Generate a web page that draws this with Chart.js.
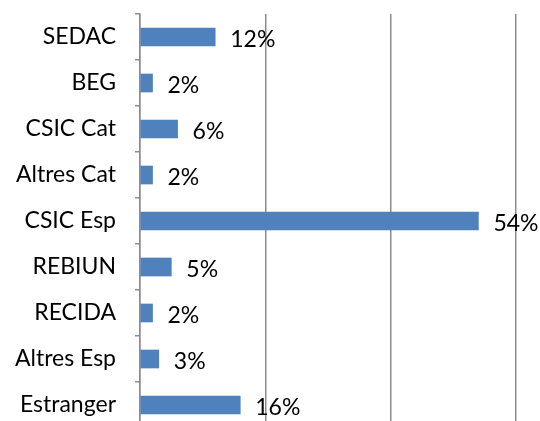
<!DOCTYPE html>
<html>
<head>
<meta charset="utf-8">
<script src="https://cdn.jsdelivr.net/npm/chart.js@4"></script>
<style>
    html, body { margin: 0; padding: 0; background: #fff; overflow: hidden; }
    #wrap { width: 540px; height: 428px; }
</style>
</head>
<body>
<div id="wrap"><canvas id="shareChart" width="540" height="428"></canvas></div>
<script>
const categories = ['SEDAC', 'BEG', 'CSIC Cat', 'Altres Cat', 'CSIC Esp', 'REBIUN', 'RECIDA', 'Altres Esp', 'Estranger'];
const shares = [12, 2, 6, 2, 54, 5, 2, 3, 16];
const axisMax = 60;
const axisStep = 20;

const barColor = '#4f81bd';
const gridColor = '#8c8c8c';
const fontFamily = 'Lato, "Open Sans", sans-serif';

// percentage labels to the right of each bar
const barLabels = {
    id: 'barLabels',
    afterDatasetsDraw(chart) {
        const { ctx } = chart;
        const meta = chart.getDatasetMeta(0);
        ctx.save();
        ctx.font = `23px ${fontFamily}`;
        ctx.fillStyle = '#000';
        ctx.textAlign = 'left';
        ctx.textBaseline = 'middle';
        meta.data.forEach((bar, index) => {
            ctx.fillText(`${shares[index]}%`, bar.x + 15, bar.y + 3);
        });
        ctx.restore();
    }
};

const ctx = document.getElementById('shareChart').getContext('2d');
new Chart(ctx, {
    type: 'bar',
    data: {
        labels: categories,
        datasets: [{
            data: shares,
            backgroundColor: barColor,
            barThickness: 18
        }]
    },
    options: {
        indexAxis: 'y',
        responsive: false,
        animation: false,
        layout: {
            padding: { top: 14, right: 24, bottom: 0, left: 0 }
        },
        plugins: {
            legend: { display: false },
            tooltip: { enabled: false }
        },
        scales: {
            x: {
                min: 0,
                max: axisMax,
                ticks: { display: false, stepSize: axisStep },
                grid: { color: gridColor, lineWidth: 1.5, drawTicks: false },
                border: { display: false },
                afterFit: scale => {
                    scale.height = 0;
                    scale.paddingLeft = 0;
                    scale.paddingRight = 0;
                }
            },
            y: {
                ticks: {
                    color: '#000',
                    padding: 19,
                    font: { family: fontFamily, size: 23 }
                },
                grid: {
                    drawOnChartArea: false,
                    color: gridColor,
                    lineWidth: 1.5,
                    tickLength: 5
                },
                border: { color: gridColor, width: 1.5 },
                afterFit: scale => {
                    scale.width = 140;
                    scale.paddingTop = 0;
                    scale.paddingBottom = 0;
                }
            }
        }
    },
    plugins: [barLabels]
});
</script>
</body>
</html>
